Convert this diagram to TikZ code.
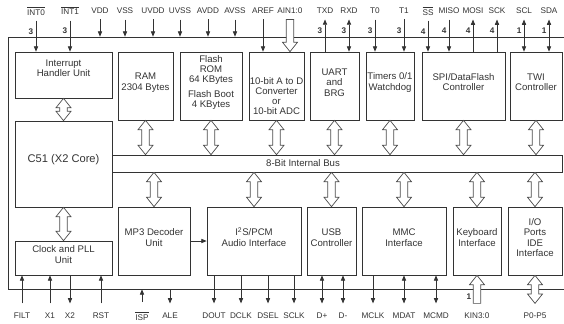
\documentclass[tikz,border=0pt]{standalone}
\usepackage{fontspec}
\setmainfont{Liberation Sans}
\usetikzlibrary{arrows.meta,fit,calc}

% hollow two-headed arrow between two points on one vertical
\newcommand\busarr[2]{%
  \draw[fat] let \p1=(#1), \p2=(#2), \n1={sign(\y1-\y2)} in
  (\x1,\y1) -- (\x1+6.4pt,\y1-\n1*8pt) -- (\x1+3.2pt,\y1-\n1*8pt)
  -- (\x1+3.2pt,\y2+\n1*8pt) -- (\x1+6.4pt,\y2+\n1*8pt) -- (\x1,\y2)
  -- (\x1-6.4pt,\y2+\n1*8pt) -- (\x1-3.2pt,\y2+\n1*8pt)
  -- (\x1-3.2pt,\y1-\n1*8pt) -- (\x1-6.4pt,\y1-\n1*8pt) -- cycle;}
% hollow arrow, head at #2
\newcommand\inarr[2]{%
  \draw[fat] let \p1=(#1), \p2=(#2), \n1={sign(\y1-\y2)} in
  (\x2,\y2) -- (\x2+6.4pt,\y2+\n1*8pt) -- (\x2+3.2pt,\y2+\n1*8pt) -- (\x2+3.2pt,\y1)
  -- (\x2-3.2pt,\y1) -- (\x2-3.2pt,\y2+\n1*8pt) -- (\x2-6.4pt,\y2+\n1*8pt) -- cycle;}

\begin{document}
\begin{tikzpicture}[x=0.03cm,y=-0.03cm,line width=0.6pt,color=black!80,
  blk/.style={draw,inner sep=0pt,align=center,font=\fontsize{8.2}{8.6}\selectfont},
  txt/.style={inner sep=0pt,align=center,font=\fontsize{8.2}{8.6}\selectfont},
  pinlbl/.style={inner xsep=0pt,inner ysep=4.5pt,font=\fontsize{7}{8}\selectfont},
  pinlblb/.style={pinlbl,inner ysep=8pt},
  num/.style={inner sep=2pt,font=\fontsize{7}{8}\selectfont\bfseries},
  sig/.style={-{Triangle[length=4.5pt,width=3.6pt]}},
  sigb/.style={{Triangle[length=4.5pt,width=3.6pt]}-{Triangle[length=4.5pt,width=3.6pt]}},
  fat/.style={draw=black!70,fill=white,line width=0.6pt}]
\useasboundingbox (0,0) rectangle (564,323);
\clip (0,0) rectangle (564,323);

% chip outline and blocks
\node[draw,inner sep=0pt,fit={(8,37) (590,289)}] (chip) {};
\node[blk,fit={(15,52) (112,98)}] (irq) {};
\node[txt] (irq-t) at (63.5,68) {Interrupt\\Handler Unit};
\node[blk,fit={(15,121) (112,207)},font=\fontsize{9.5}{11}\selectfont] (cpu) {C51 (X2 Core)};
\node[blk,fit={(15,241) (112,275)}] (clk) {Clock and PLL\\Unit};
\node[blk,fit={(118,52) (173,120)}] (ram) {RAM\\2304 Bytes};
\node[blk,fit={(180,52) (242,120)}] (flash) {Flash\\ROM\\64 KBytes\\[4.5pt]Flash Boot\\4 KBytes};
\node[blk,fit={(249,52) (304,120)}] (adc) {};
\node[txt] (adc-t) at (276.5,96) {10-bit A to D\\Converter\\or\\10-bit ADC};
\node[blk,fit={(310,52) (359,120)}] (uart) {UART\\and\\BRG};
\node[blk,fit={(366,52) (414,120)}] (tim) {Timers 0/1\\Watchdog};
\node[blk,fit={(422,52) (505,120)}] (spi) {SPI/DataFlash\\Controller};
\node[blk,fit={(510,52) (562,120)}] (twi) {TWI\\Controller};
\node[blk,fit={(112,155) (562,172)}] (bus) {};
\node[txt] (bus-t) at (303,163.5) {8-Bit Internal Bus};
\node[blk,fit={(118,207) (190,275)}] (mp3) {MP3 Decoder\\Unit};
\node[blk,fit={(207,207) (301,275)}] (i2s) {I\textsuperscript{2}S/PCM\\Audio Interface};
\node[blk,fit={(307,207) (356,275)}] (usb) {USB\\Controller};
\node[blk,fit={(362,207) (446,275)}] (mmc) {MMC\\Interface};
\node[blk,fit={(453,207) (501,275)}] (kbd) {Keyboard\\Interface};
\node[blk,fit={(508,207) (562,275)}] (io) {I/O\\Ports\\IDE\\Interface};

% internal links
\busarr{irq.south}{cpu.north}
\busarr{cpu.south}{clk.north}
\foreach \b in {ram,flash,adc,uart,tim,spi,twi}
  \busarr{\b.south}{\b.south |- bus.north};
\foreach \b in {mp3,i2s,usb,mmc,kbd,io}
  \busarr{\b.north |- bus.south}{\b.north};
\draw[sig] (mp3.east) -- (i2s.west);

% top pins
\foreach \x/\id/\t in {36/int0/{$\overline{\mbox{INT0}}$},70/int1/{$\overline{\mbox{INT1}}$},
  100/vdd/VDD,125/vss/VSS,153/uvdd/UVDD,180/uvss/UVSS,208/avdd/AVDD,235/avss/AVSS,
  263/aref/AREF,290/ain/AIN1:0,325/txd/TXD,349/rxd/RXD,375/t0/T0,404/t1/T1,
  428/ss/{$\overline{\mbox{SS}}$},449/miso/MISO,473/mosi/MOSI,497/sck/SCK,524/scl/SCL,549/sda/SDA}
  \node[pinlbl] (\id) at (\x,11) {\t};
\foreach \id in {vdd,vss,uvdd,uvss,avdd,avss}
  \draw[sig] (\id.south) -- (\id.south |- chip.north);
\draw[sig] (aref.south) -- (aref.south |- adc.north);
\inarr{ain.south}{ain.south |- adc.north}
\foreach \id/\b/\k in {int0/irq/3,int1/irq/3,t0/tim/3,t1/tim/3,ss/spi/4,miso/spi/4}
  \draw[sig] (\id.south) -- node[num,left,pos=.34] (\id-k) {\k} (\id.south |- \b.north);
\foreach \id/\b/\k in {txd/uart/3,mosi/spi/4,sck/spi/4}
  \draw[sig] (\id.south |- \b.north) -- node[num,left,pos=.66] (\id-k) {\k} (\id.south);
\foreach \id/\b/\k in {rxd/uart/3,scl/twi/1,sda/twi/1}
  \draw[sigb] (\id.south |- \b.north) -- node[num,left,pos=.66] (\id-k) {\k} (\id.south);

% bottom pins
\foreach \x/\id/\t in {22/filt/FILT,50/xa/X1,70/xb/X2,101/rst/RST,142/isp/{$\overline{\mbox{ISP}}$},
  170/ale/ALE,214/dout/DOUT,241/dclk/DCLK,268/dsel/DSEL,294/sclk/SCLK,322/dp/D+,343/dm/D-,
  373/mclk/MCLK,404/mdat/MDAT,436/mcmd/MCMD,477/kin/KIN3:0,535/port/P0-P5}
  \node[pinlblb] (\id) at (\x,316) {\t};
\foreach \id in {filt,xa,rst}
  \draw[sig] (\id.north) -- (\id.north |- clk.south);
\draw[sig] (xb.north |- clk.south) -- (xb.north);
\draw[sig] (isp.north) -- (isp.north |- chip.south);
\draw[sig] (ale.north |- chip.south) -- (ale.north);
\foreach \id in {dout,dclk,dsel,sclk}
  \draw[sig] (\id.north |- i2s.south) -- (\id.north);
\draw[sig] (mclk.north |- mmc.south) -- (mclk.north);
\foreach \id/\b in {dp/usb,dm/usb,mdat/mmc,mcmd/mmc}
  \draw[sigb] (\id.north |- \b.south) -- (\id.north);
\inarr{kin.north}{kin.north |- kbd.south}
\node[num] (kin-k) at (469,297) {1};
\busarr{port.north}{port.north |- io.south}
\end{tikzpicture}
\end{document}
